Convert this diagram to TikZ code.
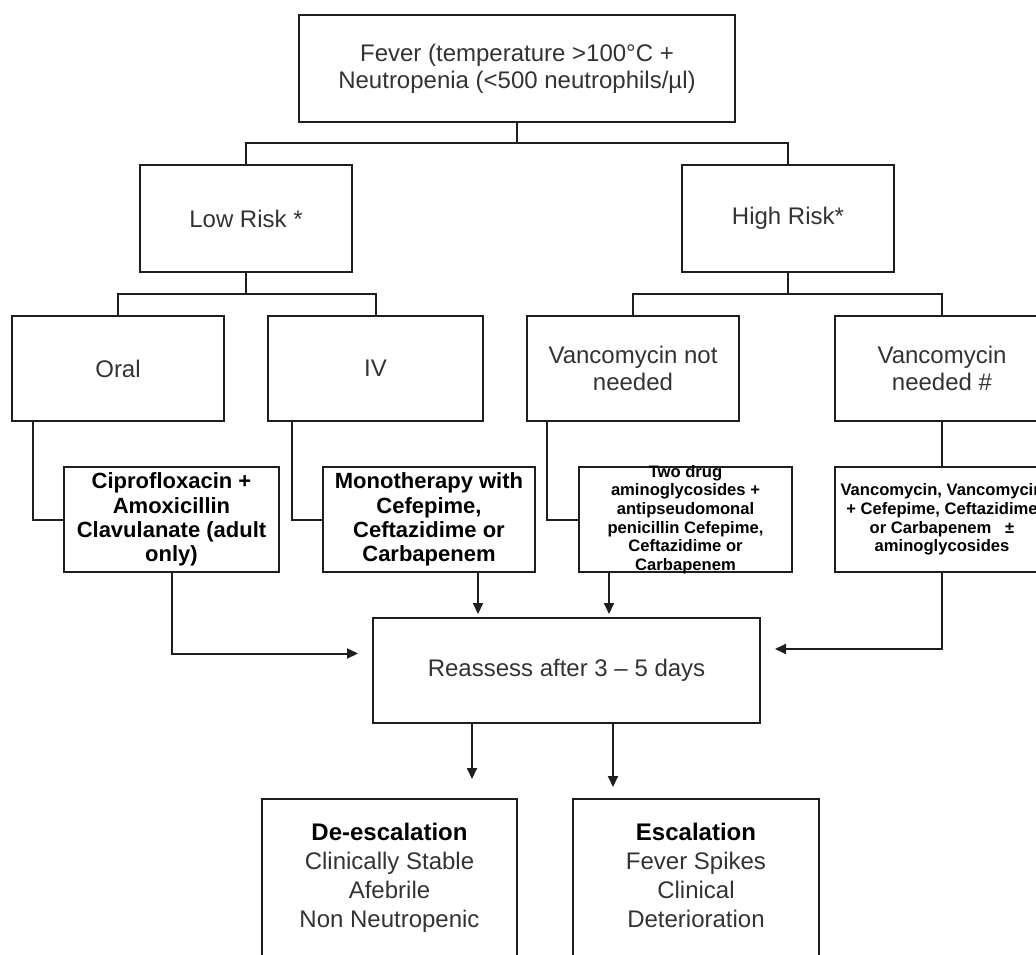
\documentclass[tikz,border=0pt]{standalone}
\usepackage{fontspec}
\setmainfont{Liberation Sans}
\usetikzlibrary{arrows.meta}
\definecolor{linec}{HTML}{1E1E1E}
\definecolor{txt}{HTML}{333333}
\begin{document}
\begin{tikzpicture}[x=1pt,y=-1pt,
  box/.style={draw=linec, line width=2pt, fill=white, align=center, inner sep=0pt, text=txt, font=\fontsize{24}{27}\selectfont},
  drugbox/.style={box, text=black, font=\bfseries\fontsize{22}{24.3}\selectfont},
  conn/.style={draw=linec, line width=2pt},
  arr/.style={conn, -{Triangle[length=11pt,width=10pt]}},
  small/.style={align=center, inner sep=0pt, text=black, font=\bfseries\fontsize{16.6}{18.6}\selectfont},
  bot/.style={align=center, inner sep=0pt, text=txt, font=\fontsize{24}{29}\selectfont}
]
\fill[white] (0,0) rectangle (1036,955);
\useasboundingbox (0,0) rectangle (1036,955);
\clip (0,0) rectangle (1036,955);

\node[box, minimum width=436, minimum height=107] (top) at (517,68.5) {Fever (temperature >100°C +\\Neutropenia (<500 neutrophils/µl)};
\node[box, minimum width=212, minimum height=107] (low) at (246,218.5) {Low Risk *};
\node[box, minimum width=212, minimum height=107] (high) at (788,218.5) {High Risk*};

\node[box, minimum width=212, minimum height=105] (oral) at (118,368.5) {Oral};
\node[box, minimum width=215, minimum height=105] (iv) at (375.5,368.5) {IV};
\node[box, minimum width=212, minimum height=105] (vnot) at (633,368.5) {Vancomycin not\\needed};
\node[box, minimum width=214, minimum height=105] (vneed) at (942,368.5) {Vancomycin\\needed \#};

\node[drugbox, minimum width=215, minimum height=105] (cipro) at (171.5,519.5) {Ciprofloxacin +\\Amoxicillin\\Clavulanate (adult\\only)};
\node[drugbox, minimum width=212, minimum height=105] (mono) at (429,519.5) {Monotherapy with\\Cefepime,\\Ceftazidime or\\Carbapenem};
\node[box, minimum width=213, minimum height=105,
  label={[small]center:{Two drug\\aminoglycosides +\\antipseudomonal\\penicillin Cefepime,\\Ceftazidime or\\Carbapenem}}] (two) at (685.5,519.5) {};
\node[box, minimum width=214, minimum height=105,
  label={[small]center:{Vancomycin, Vancomycin\\+ Cefepime, Ceftazidime\\or Carbapenem\ \ \ ±\\aminoglycosides}}] (vdrug) at (942,519.5) {};

\node[box, minimum width=387, minimum height=105] (re) at (566.5,670.5) {Reassess after 3 – 5 days};

\node[box, anchor=north, minimum width=255, minimum height=190,
  label={[bot, anchor=north, yshift=-24.5pt]north:{\textbf{\color{black}De-escalation}\\Clinically Stable\\Afebrile\\Non Neutropenic}}] (de) at (389.5,798) {};
\node[box, anchor=north, minimum width=246, minimum height=190,
  label={[bot, anchor=north, yshift=-24.5pt]north:{\textbf{\color{black}Escalation}\\Fever Spikes\\Clinical\\Deterioration}}] (esc) at (696,798) {};

% connectors
\draw[conn] (top.south) -- ++(0,20) coordinate (t1);
\draw[conn] (low.north) |- (t1) -| (high.north);
\draw[conn] (low.south) -- ++(0,21) coordinate (l1);
\draw[conn] (oral.north) |- (l1) -| (iv.north);
\draw[conn] (high.south) -- ++(0,21) coordinate (h1);
\draw[conn] (vnot.north) |- (h1) -| (vneed.north);
\draw[conn] ([xshift=-85pt]oral.south) |- (cipro.west);
\draw[conn] ([xshift=-83.5pt]iv.south) |- (mono.west);
\draw[conn] ([xshift=-86pt]vnot.south) |- (two.west);
\draw[conn] (vneed.south) -- (vdrug.north);

\coordinate (rl) at (358,653.5);
\coordinate (rr) at (775,649);
\draw[arr] (cipro.south) |- (rl);
\draw[arr] (vdrug.south) |- (rr);
\coordinate (m1) at ([xshift=49pt]mono.south);
\coordinate (m2) at ([xshift=-76.5pt]two.south);
\draw[arr, shorten >=3pt] (m1) -- (m1 |- re.north);
\draw[arr, shorten >=3pt] (m2) -- (m2 |- re.north);
\coordinate (r1) at ([xshift=-94.5pt]re.south);
\coordinate (r2) at ([xshift=46.5pt]re.south);
\draw[arr, shorten >=19pt] (r1) -- (r1 |- de.north);
\draw[arr, shorten >=11pt] (r2) -- (r2 |- esc.north);
\end{tikzpicture}
\end{document}
